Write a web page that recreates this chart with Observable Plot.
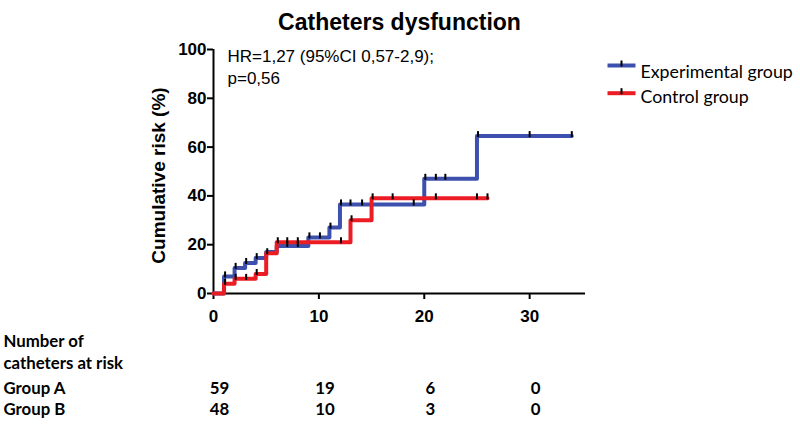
<!DOCTYPE html>
<html><head><meta charset="utf-8">
<script src="https://cdn.jsdelivr.net/npm/d3@7"></script>
<script src="https://cdn.jsdelivr.net/npm/@observablehq/plot@0.6"></script>
<style>
html,body{margin:0;padding:0;background:#fff;}
#chart svg{display:block;}
#chart [aria-label="x-axis tick"] path, #chart [aria-label="y-axis tick"] path{stroke-width:2;}
</style></head><body><div id="chart"></div>
<script>
// Step data (time in months, cumulative risk %)
const blueTimes = [0, 1, 2, 3, 4, 5, 6, 9, 11, 12, 20, 25, 34];
const blueRisk  = [0, 7, 10.5, 12.5, 14.5, 17, 19.5, 23, 27, 36.5, 47, 64.5, 64.5];
const redTimes  = [0, 1, 2, 4, 5, 6, 13, 15, 26];
const redRisk   = [0, 4, 6, 8, 16.5, 21, 30, 39, 39];
// Censoring times
const blueCensor = [1.1, 2.1, 3.1, 4.1, 7, 8, 9.1, 10.1, 11.1, 12.1, 13, 14.1, 19, 20.1, 21.1, 22, 25.1, 30, 34];
const redCensor  = [1.1, 2.1, 3.1, 4.1, 5.1, 6.1, 7, 8, 12.1, 13.1, 15.1, 17, 21.1, 25, 26];
// Axes
const xTicks = [0, 10, 20, 30];
const yTicks = [0, 20, 40, 60, 80, 100];
// Numbers at risk
const riskTimes = [0, 10, 20, 30];
const groupA = [59, 19, 6, 0];
const groupB = [48, 10, 3, 0];
const riskHeader = ["Number of", "catheters at risk"];
const rowLabels = ["Group A", "Group B"];
const seriesNames = ["Experimental group", "Control group"];
const seriesColors = ["#3d50ad", "#ec1c24"];
const titleText = "Catheters dysfunction";
const yLabel = "Cumulative risk (%)";
const hrText = "HR=1,27 (95%CI 0,57-2,9);\np=0,56";

const toSteps = (ts, vs) => ts.map((t, i) => ({t, v: vs[i]}));
const valueAt = (ts, vs, t) => { let v = vs[0]; ts.forEach((s, i) => { if (s <= t) v = vs[i]; }); return v; };
const blueSteps = toSteps(blueTimes, blueRisk);
const redSteps = toSteps(redTimes, redRisk);
const blueC = blueCensor.map(t => ({t, v: valueAt(blueTimes, blueRisk, t)}));
const redC = redCensor.map(t => ({t, v: valueAt(redTimes, redRisk, t)}));

const vtick = {draw(ctx){ ctx.moveTo(0, 1); ctx.lineTo(0, -5); }};
const hline = {draw(ctx){ ctx.moveTo(-14, 0); ctx.lineTo(14, 0); }};
const sans = "Liberation Sans, Arial, sans-serif";
const lato = "Lato, Open Sans, sans-serif";
const tbl = {textAnchor: "start", fontSize: 16.8, fontWeight: "bold", fontFamily: lato};

const chart = Plot.plot({
  width: 800, height: 426,
  marginLeft: 213, marginRight: 215, marginTop: 49, marginBottom: 133,
  x: {domain: [0, 35.3]},
  y: {domain: [0, 100]},
  style: {fontFamily: sans, color: "black", background: "white", overflow: "visible"},
  marks: [
    Plot.axisX({ticks: xTicks, tickSize: 6, tickPadding: 10, fontSize: 17, fontWeight: "bold", label: null, strokeWidth: 2}),
    Plot.axisY({ticks: yTicks, tickSize: 6, tickPadding: 1, fontSize: 17, fontWeight: "bold", label: null, strokeWidth: 2}),
    Plot.ruleX([0], {strokeWidth: 2}),
    Plot.ruleY([0], {strokeWidth: 2}),
    Plot.line(blueSteps, {x: "t", y: "v", curve: "step-after", stroke: seriesColors[0], strokeWidth: 4}),
    Plot.line(redSteps, {x: "t", y: "v", curve: "step-after", stroke: seriesColors[1], strokeWidth: 4}),
    Plot.dot(blueC, {x: "t", y: "v", symbol: vtick, fill: "none", stroke: "black", strokeWidth: 2}),
    Plot.dot(redC, {x: "t", y: "v", symbol: vtick, fill: "none", stroke: "black", strokeWidth: 2}),
    // title
    Plot.text([titleText], {frameAnchor: "top", dy: -35.7, fontSize: 23, fontWeight: "bold"}),
    // y label
    Plot.text([yLabel], {frameAnchor: "left", textAnchor: "middle", dx: -55, dy: 4, rotate: -90, fontSize: 19, fontWeight: "bold"}),
    // HR annotation
    Plot.text([hrText], {frameAnchor: "top-left", dx: 14, dy: -2.7, lineAnchor: "top", textAnchor: "start", fontSize: 17, lineHeight: 1.28}),
    // legend
    Plot.dot([seriesNames[0]], {frameAnchor: "top-right", dx: 36, dy: 16, symbol: hline, fill: "none", stroke: seriesColors[0], strokeWidth: 4}),
    Plot.dot([seriesNames[0]], {frameAnchor: "top-right", dx: 36, dy: 16, symbol: vtick, fill: "none", stroke: "black", strokeWidth: 2}),
    Plot.text([seriesNames[0]], {frameAnchor: "top-right", dx: 55, dy: 16.3, textAnchor: "start", fontSize: 17.8, fontFamily: lato}),
    Plot.dot([seriesNames[1]], {frameAnchor: "top-right", dx: 36, dy: 43.7, symbol: hline, fill: "none", stroke: seriesColors[1], strokeWidth: 4}),
    Plot.dot([seriesNames[1]], {frameAnchor: "top-right", dx: 36, dy: 43.7, symbol: vtick, fill: "none", stroke: "black", strokeWidth: 2}),
    Plot.text([seriesNames[1]], {frameAnchor: "top-right", dx: 55, dy: 40.6, textAnchor: "start", fontSize: 17.8, fontFamily: lato}),
    // numbers at risk
    Plot.text([riskHeader[0]], {...tbl, frameAnchor: "bottom-left", dx: -210, dy: 53.4}),
    Plot.text([riskHeader[1]], {...tbl, frameAnchor: "bottom-left", dx: -210, dy: 75.7}),
    Plot.text([rowLabels[0]], {...tbl, frameAnchor: "bottom-left", dx: -210, dy: 100}),
    Plot.text([rowLabels[1]], {...tbl, frameAnchor: "bottom-left", dx: -210, dy: 121.7}),
    Plot.text(riskTimes, {...tbl, textAnchor: "middle", x: d => d, text: (d, i) => String(groupA[i]), frameAnchor: "bottom", dx: 6, dy: 100}),
    Plot.text(riskTimes, {...tbl, textAnchor: "middle", x: d => d, text: (d, i) => String(groupB[i]), frameAnchor: "bottom", dx: 6, dy: 121.7})
  ]
});
document.getElementById("chart").appendChild(chart);
</script>
</body></html>
